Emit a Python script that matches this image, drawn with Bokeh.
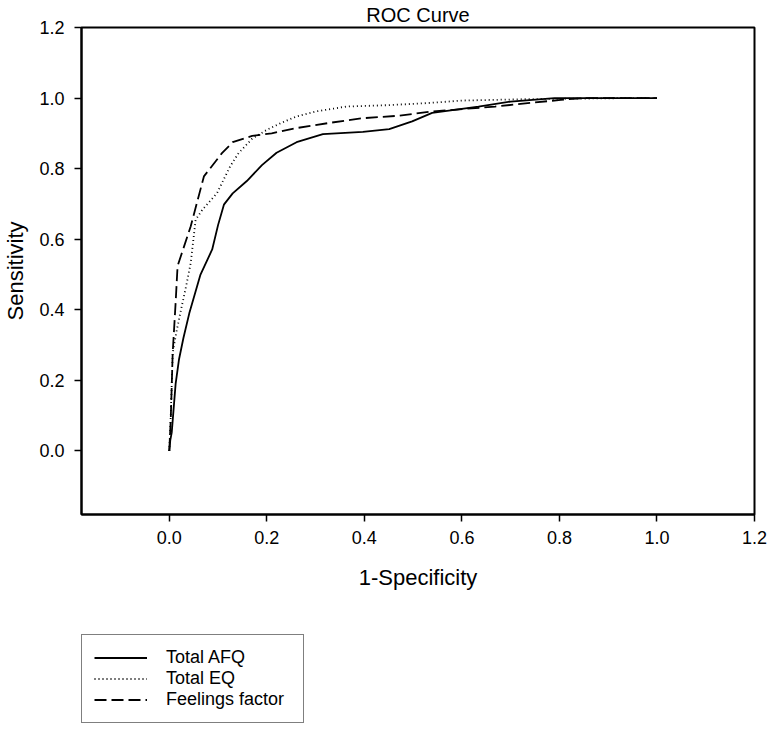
from bokeh.plotting import figure
from bokeh.layouts import column
from bokeh.models import Legend, LegendItem, Range1d, FixedTicker, NumeralTickFormatter
from bokeh.embed import file_html
from bokeh.resources import INLINE

# ---- data ----
afq_x = [0.0, 0.002, 0.005, 0.013, 0.020, 0.029, 0.041, 0.064, 0.088, 0.100, 0.112, 0.130,
         0.159, 0.190, 0.220, 0.261, 0.315, 0.397, 0.451, 0.498, 0.539, 0.634, 0.700, 0.790, 1.0]
afq_y = [0.0, 0.030, 0.052, 0.190, 0.260, 0.320, 0.390, 0.500, 0.571, 0.640, 0.698, 0.730,
         0.765, 0.810, 0.845, 0.875, 0.898, 0.904, 0.912, 0.934, 0.958, 0.976, 0.990, 1.0, 1.0]

eq_x = [0.0, 0.003, 0.007, 0.015, 0.024, 0.035, 0.044, 0.054, 0.068, 0.098, 0.125, 0.142,
        0.170, 0.200, 0.230, 0.261, 0.300, 0.363, 0.450, 0.532, 0.600, 0.735, 0.940, 1.0]
eq_y = [0.0, 0.100, 0.278, 0.340, 0.400, 0.470, 0.533, 0.655, 0.684, 0.731, 0.807, 0.844,
        0.885, 0.910, 0.930, 0.948, 0.962, 0.976, 0.980, 0.986, 0.993, 0.997, 1.0, 1.0]

ff_x = [0.0, 0.002, 0.003, 0.007, 0.013, 0.017, 0.044, 0.071, 0.108, 0.130, 0.170, 0.210,
        0.261, 0.330, 0.397, 0.470, 0.539, 0.668, 0.803, 0.850, 1.0]
ff_y = [0.0, 0.060, 0.089, 0.278, 0.420, 0.524, 0.637, 0.778, 0.844, 0.875, 0.893, 0.900,
        0.915, 0.930, 0.943, 0.950, 0.962, 0.976, 0.995, 1.0, 1.0]

series_names = ["Total AFQ", "Total EQ", "Feelings factor"]
tick_values = [0.0, 0.2, 0.4, 0.6, 0.8, 1.0, 1.2]

SERIES = [(afq_x, afq_y), (eq_x, eq_y), (ff_x, ff_y)]
FONT = "Liberation Sans"
STYLES = [dict(line_dash="solid"), dict(line_dash="1 3"), dict(line_dash="12 5")]

p = figure(width=769, height=600, output_backend="svg", toolbar_location=None,
           x_range=Range1d(-0.18, 1.2), y_range=Range1d(-0.18, 1.2),
           title="ROC Curve", min_border_left=75, min_border_right=15,
           min_border_top=26, min_border_bottom=86)

p.title.align = "center"
p.title.text_font = FONT
p.title.text_font_size = "20px"
p.title.text_font_style = "normal"
p.title.text_color = "black"
p.title.standoff = 3
p.title.offset = 0

p.grid.visible = False
p.outline_line_color = "black"
p.outline_line_width = 2
p.background_fill_color = "white"
p.border_fill_color = "white"

for ax in (p.xaxis[0], p.yaxis[0]):
    ax.ticker = FixedTicker(ticks=tick_values)
    ax.formatter = NumeralTickFormatter(format="0.0")
    ax.axis_line_width = 2
    ax.axis_line_color = "black"
    ax.major_tick_line_width = 1.5
    ax.major_tick_line_color = "black"
    ax.major_tick_in = 0
    ax.major_tick_out = 7
    ax.minor_tick_line_color = None
    ax.major_label_text_font = FONT
    ax.major_label_text_font_size = "18px"
    ax.major_label_text_color = "black"
    ax.axis_label_text_font = FONT
    ax.axis_label_text_font_size = "22px"
    ax.axis_label_text_font_style = "normal"
    ax.axis_label_text_color = "black"

p.xaxis.axis_label = "1-Specificity"
p.yaxis.axis_label = "Sensitivity"
p.xaxis.major_label_standoff = 9
p.yaxis.major_label_standoff = 10
p.xaxis.axis_label_standoff = 18
p.yaxis.axis_label_standoff = 8

for (xs, ys), st in zip(SERIES, STYLES):
    p.line(xs, ys, line_color="black", line_width=1.8, **st)

# ---- legend panel below the chart (its ranges keep the copies of the lines out of view) ----
p2 = figure(width=769, height=124, output_backend="svg", toolbar_location=None,
            x_axis_type=None, y_axis_type=None,
            x_range=Range1d(10, 11), y_range=Range1d(10, 11),
            min_border_left=75, min_border_right=15, min_border_top=34, min_border_bottom=0)
p2.grid.visible = False
p2.outline_line_color = None
p2.background_fill_color = "white"
p2.border_fill_color = "white"

leg_renderers = [p2.line(xs, ys, line_color="black", line_width=1.8, **st)
                 for (xs, ys), st in zip(SERIES, STYLES)]

legend = Legend(items=[LegendItem(label=n, renderers=[r]) for n, r in zip(series_names, leg_renderers)],
                location="top_left", orientation="vertical")
legend.border_line_color = "black"
legend.border_line_width = 1.5
legend.background_fill_color = "white"
legend.background_fill_alpha = 1
legend.label_text_font = FONT
legend.label_text_font_size = "18px"
legend.label_text_color = "black"
legend.glyph_width = 53
legend.glyph_height = 21
legend.label_height = 21
legend.label_width = 125
legend.spacing = 0
legend.padding = 12
legend.margin = 0
legend.label_standoff = 19
p2.add_layout(legend, "center")

layout = column(p, p2, spacing=0)
open("out.html", "w").write(file_html(layout, INLINE))
